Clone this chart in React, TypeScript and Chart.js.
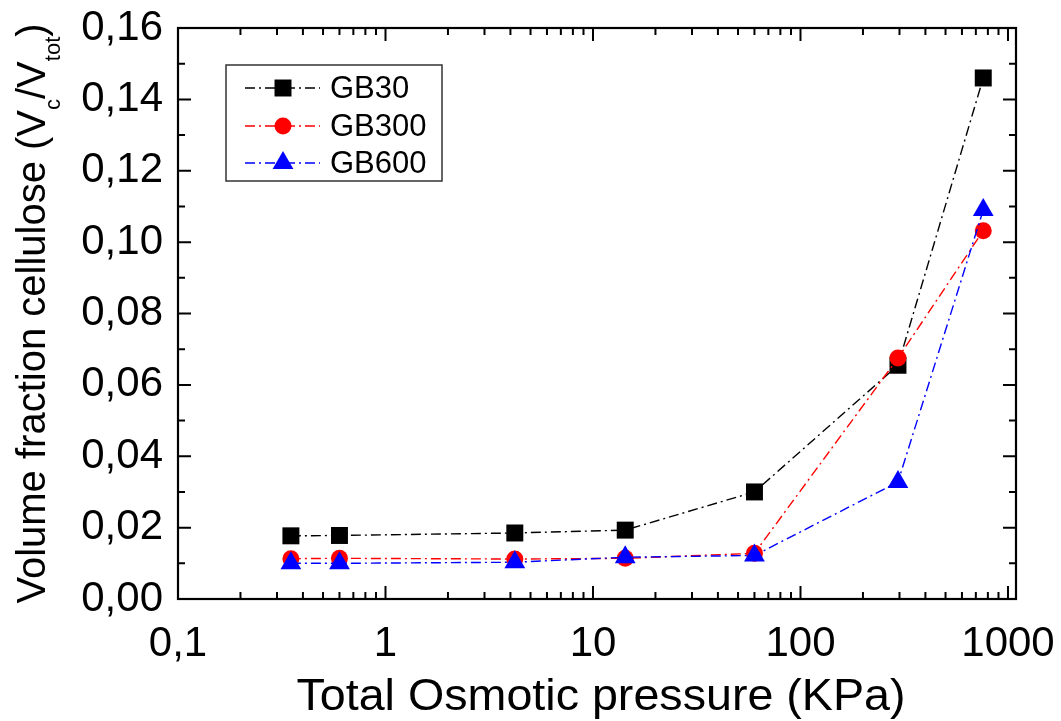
import React, { useEffect, useRef } from 'react';
import { Chart, registerables } from 'chart.js';

Chart.register(...registerables);

// ---- data ----
const PRESSURE_KPA = [0.35, 0.6, 4.2, 14.3, 60, 295, 760];
const GB30 = [0.0177, 0.0178, 0.0185, 0.0193, 0.03, 0.0655, 0.146];
const GB300 = [0.0113, 0.0114, 0.0112, 0.0114, 0.0128, 0.0675, 0.1032];
const GB600 = [0.01, 0.01, 0.0103, 0.0117, 0.0122, 0.0328, 0.109];
const SERIES_NAMES = ['GB30', 'GB300', 'GB600'];

const X_TICK_VALUES = [0.1, 1, 10, 100, 1000];
const X_TICK_LABELS = ['0,1', '1', '10', '100', '1000'];
const Y_TICK_VALUES = [0, 0.02, 0.04, 0.06, 0.08, 0.1, 0.12, 0.14, 0.16];
const Y_TICK_LABELS = ['0,00', '0,02', '0,04', '0,06', '0,08', '0,10', '0,12', '0,14', '0,16'];

const X_TITLE = 'Total Osmotic pressure (KPa)';
const Y_TITLE_PARTS = [
  { text: 'Volume fraction cellulose (V', sub: false },
  { text: 'c', sub: true },
  { text: '/V', sub: false },
  { text: 'tot', sub: true },
  { text: ')', sub: false },
];

const FONT = "'Liberation Sans', Arial, Helvetica, sans-serif";

const toPoints = (ys: number[]) => PRESSURE_KPA.map((x, i) => ({ x, y: ys[i] }));

function drawMarker(ctx: CanvasRenderingContext2D, style: string, x: number, y: number, r: number, color: string) {
  ctx.save();
  ctx.fillStyle = color;
  ctx.beginPath();
  if (style === 'rect') {
    const s = Math.SQRT1_2 * r;
    ctx.rect(x - s, y - s, 2 * s, 2 * s);
  } else if (style === 'circle') {
    ctx.arc(x, y, r, 0, Math.PI * 2);
  } else if (style === 'triangle') {
    ctx.moveTo(x, y - r);
    ctx.lineTo(x + r * Math.sqrt(3) / 2, y + r / 2);
    ctx.lineTo(x - r * Math.sqrt(3) / 2, y + r / 2);
    ctx.closePath();
  }
  ctx.fill();
  ctx.restore();
}

const decorPlugin = {
  id: 'decor',
  afterDraw(chart: any) {
    const { ctx, chartArea } = chart;
    const { left, right, top, bottom } = chartArea;
    const xs = chart.scales.x;
    const ys = chart.scales.y;
    ctx.save();

    // frame
    ctx.strokeStyle = '#000';
    ctx.lineWidth = 2.2;
    ctx.strokeRect(left, top, right - left, bottom - top);

    // inward ticks
    const major = 13;
    const minor = 7;
    ctx.lineWidth = 2;
    ctx.beginPath();
    const xTick = (v: number, len: number) => {
      const px = xs.getPixelForValue(v);
      if (px < left - 0.5 || px > right + 0.5) return;
      ctx.moveTo(px, bottom);
      ctx.lineTo(px, bottom - len);
      ctx.moveTo(px, top);
      ctx.lineTo(px, top + len);
    };
    X_TICK_VALUES.forEach((d) => {
      xTick(d, major);
      for (let k = 2; k <= 9; k++) {
        const v = d * k;
        if (v <= xs.max) xTick(v, minor);
      }
    });
    const yTick = (v: number, len: number) => {
      const py = ys.getPixelForValue(v);
      ctx.moveTo(left, py);
      ctx.lineTo(left + len, py);
      ctx.moveTo(right, py);
      ctx.lineTo(right - len, py);
    };
    Y_TICK_VALUES.forEach((v, i) => {
      yTick(v, major);
      if (i < Y_TICK_VALUES.length - 1) yTick((v + Y_TICK_VALUES[i + 1]) / 2, minor);
    });
    ctx.stroke();

    // x axis title (slightly wide face, as in the reference)
    ctx.save();
    ctx.font = `44px ${FONT}`;
    ctx.fillStyle = '#000';
    ctx.textAlign = 'center';
    ctx.textBaseline = 'alphabetic';
    ctx.translate((left + right) / 2 + 4, 710);
    ctx.scale(1.06, 1);
    ctx.fillText(X_TITLE, 0, 0);
    ctx.restore();

    // y axis title with subscripts
    const mainFont = `40px ${FONT}`;
    const subFont = `22px ${FONT}`;
    let total = 0;
    const widths = Y_TITLE_PARTS.map((p) => {
      ctx.font = p.sub ? subFont : mainFont;
      const w = ctx.measureText(p.text).width;
      total += w;
      return w;
    });
    ctx.save();
    ctx.translate(45, (top + bottom) / 2);
    ctx.rotate(-Math.PI / 2);
    ctx.fillStyle = '#000';
    ctx.textAlign = 'left';
    ctx.textBaseline = 'alphabetic';
    let cx = -total / 2;
    Y_TITLE_PARTS.forEach((p, i) => {
      ctx.font = p.sub ? subFont : mainFont;
      ctx.fillText(p.text, cx, p.sub ? 15 : 0);
      cx += widths[i];
    });
    ctx.restore();

    // legend
    const bx = left + 48;
    const by = top + 37;
    const bw = 216;
    const bh = 116;
    ctx.fillStyle = '#fff';
    ctx.fillRect(bx, by, bw, bh);
    ctx.strokeStyle = '#333';
    ctx.lineWidth = 1.5;
    ctx.strokeRect(bx, by, bw, bh);
    const rowY = [23, 61, 98];
    chart.data.datasets.forEach((ds: any, i: number) => {
      const yy = by + rowY[i];
      ctx.save();
      ctx.strokeStyle = ds.borderColor;
      ctx.lineWidth = ds.borderWidth;
      ctx.setLineDash(ds.borderDash);
      ctx.beginPath();
      ctx.moveTo(bx + 19, yy);
      ctx.lineTo(bx + 94, yy);
      ctx.stroke();
      ctx.restore();
      drawMarker(ctx, ds.pointStyle, bx + 57, yy, ds.pointRadius, ds.pointBackgroundColor);
      ctx.fillStyle = '#000';
      ctx.font = `31px ${FONT}`;
      ctx.textAlign = 'left';
      ctx.textBaseline = 'middle';
      ctx.fillText(ds.label, bx + 104, yy + 1);
    });

    ctx.restore();
  },
};

export default function App() {
  const canvasRef = useRef<HTMLCanvasElement | null>(null);

  useEffect(() => {
    const canvas = canvasRef.current;
    if (!canvas) return;
    const dash = [10, 4, 2, 4];
    const mk = (label: string, data: number[], color: string, style: string, r: number, order: number) => ({
      label,
      data: toPoints(data),
      borderColor: color,
      backgroundColor: color,
      pointBackgroundColor: color,
      pointBorderColor: color,
      pointBorderWidth: 0,
      borderWidth: 1.4,
      borderDash: dash,
      pointStyle: style,
      pointRadius: r,
      pointHoverRadius: r,
      showLine: true,
      tension: 0,
      order,
    });
    const chart = new Chart(canvas, {
      type: 'line',
      data: {
        datasets: [
          mk(SERIES_NAMES[0], GB30, '#000000', 'rect', 12, 3),
          mk(SERIES_NAMES[1], GB300, '#ff0000', 'circle', 8.5, 2),
          mk(SERIES_NAMES[2], GB600, '#0000ff', 'triangle', 12, 1),
        ],
      },
      options: {
        animation: false,
        responsive: false,
        devicePixelRatio: 1,
        layout: { padding: { top: 28, right: 45, left: 0, bottom: 0 } },
        plugins: {
          legend: { display: false },
          tooltip: { enabled: false },
        },
        scales: {
          x: {
            type: 'logarithmic',
            min: 0.1,
            max: 1093,
            afterBuildTicks: (s: any) => {
              s.ticks = X_TICK_VALUES.map((v) => ({ value: v }));
            },
            afterFit: (s: any) => {
              s.height = 122;
              s.paddingLeft = 0;
              s.paddingRight = 0;
              s.paddingTop = 0;
              s.paddingBottom = 0;
            },
            grid: { display: false, drawTicks: false },
            border: { display: false },
            ticks: {
              autoSkip: false,
              maxRotation: 0,
              padding: 20,
              color: '#000',
              font: { size: 42, family: FONT },
              callback: (value: any) => {
                const idx = X_TICK_VALUES.findIndex((v) => Math.abs(v - Number(value)) < 1e-9);
                return idx >= 0 ? X_TICK_LABELS[idx] : '';
              },
            },
            title: { display: false },
          },
          y: {
            type: 'linear',
            min: 0,
            max: 0.16,
            afterBuildTicks: (s: any) => {
              s.ticks = Y_TICK_VALUES.map((v) => ({ value: v }));
            },
            afterFit: (s: any) => {
              s.width = 178;
              s.paddingLeft = 0;
              s.paddingRight = 0;
              s.paddingTop = 0;
              s.paddingBottom = 0;
            },
            grid: { display: false, drawTicks: false },
            border: { display: false },
            ticks: {
              padding: 15,
              color: '#000',
              font: { size: 42, family: FONT },
              callback: (value: any) => {
                const idx = Y_TICK_VALUES.findIndex((v) => Math.abs(v - Number(value)) < 1e-9);
                return idx >= 0 ? Y_TICK_LABELS[idx] : '';
              },
            },
          },
        },
      } as any,
      plugins: [decorPlugin],
    });
    return () => chart.destroy();
  }, []);

  return (
    <div style={{ position: 'absolute', left: 0, top: 0, width: 1061, height: 721, background: '#fff' }}>
      <canvas ref={canvasRef} width={1061} height={721} style={{ display: 'block', width: 1061, height: 721 }} />
    </div>
  );
}
